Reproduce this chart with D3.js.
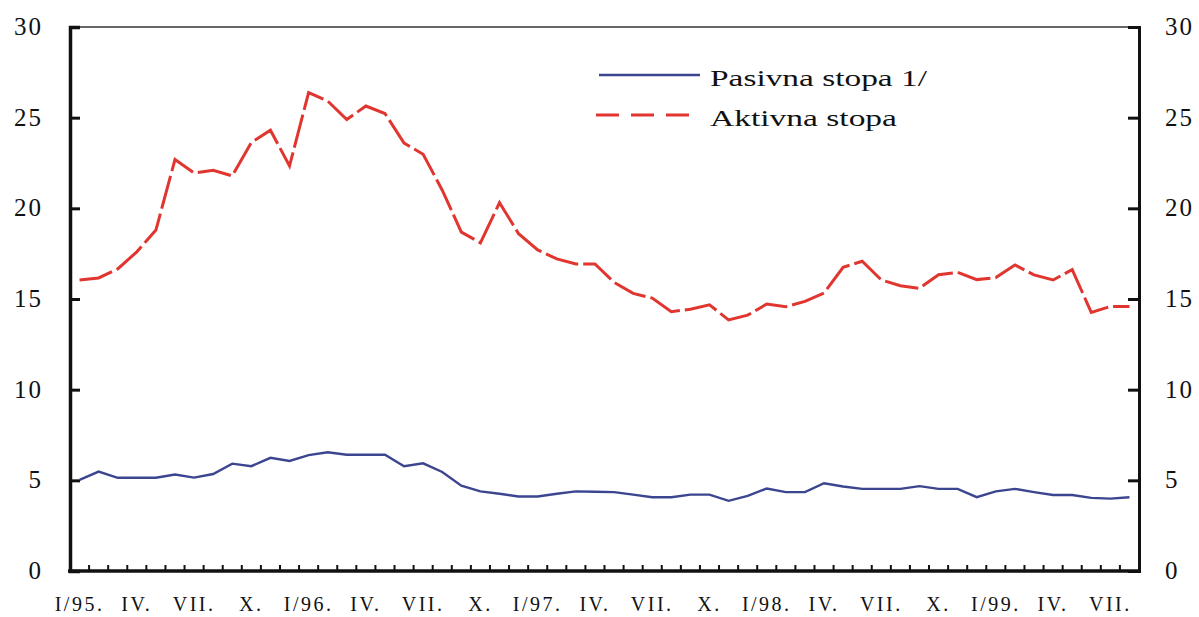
<!DOCTYPE html>
<html>
<head>
<meta charset="utf-8">
<script src="https://cdn.jsdelivr.net/npm/d3@7"></script>
<style>
  body { margin: 0; background: #fff; }
  text { font-family: "Liberation Serif", "Times New Roman", serif; fill: #111; }
</style>
</head>
<body>
<script>
var w = 1199;
var h = 617;

//Months, Jan 1995 - Aug 1999
var months = [
    "1995-01", "1995-02", "1995-03", "1995-04", "1995-05", "1995-06", "1995-07", "1995-08", "1995-09", "1995-10", "1995-11", "1995-12",
    "1996-01", "1996-02", "1996-03", "1996-04", "1996-05", "1996-06", "1996-07", "1996-08", "1996-09", "1996-10", "1996-11", "1996-12",
    "1997-01", "1997-02", "1997-03", "1997-04", "1997-05", "1997-06", "1997-07", "1997-08", "1997-09", "1997-10", "1997-11", "1997-12",
    "1998-01", "1998-02", "1998-03", "1998-04", "1998-05", "1998-06", "1998-07", "1998-08", "1998-09", "1998-10", "1998-11", "1998-12",
    "1999-01", "1999-02", "1999-03", "1999-04", "1999-05", "1999-06", "1999-07", "1999-08"
];

//Pasivna stopa 1/
var pasivna = [
    5.02, 5.48, 5.14, 5.14, 5.14, 5.32, 5.15, 5.35, 5.92, 5.78, 6.24, 6.07,
    6.39, 6.55, 6.41, 6.41, 6.41, 5.78, 5.94, 5.46, 4.70, 4.39, 4.26, 4.11,
    4.11, 4.26, 4.39, 4.37, 4.35, 4.21, 4.07, 4.07, 4.21, 4.21, 3.87, 4.14,
    4.55, 4.35, 4.35, 4.84, 4.66, 4.53, 4.53, 4.53, 4.68, 4.53, 4.53, 4.07,
    4.39, 4.53, 4.35, 4.19, 4.19, 4.03, 3.99, 4.07
];

//Aktivna stopa
var aktivna = [
    16.05, 16.16, 16.66, 17.6, 18.8, 22.69, 21.95, 22.1, 21.79, 23.63, 24.31, 22.34,
    26.38, 25.92, 24.9, 25.64, 25.23, 23.6, 22.98, 21.0, 18.69, 18.1, 20.31, 18.6,
    17.71, 17.21, 16.93, 16.93, 15.92, 15.31, 15.05, 14.3, 14.44, 14.68, 13.85, 14.11,
    14.72, 14.57, 14.87, 15.33, 16.75, 17.08, 16.05, 15.73, 15.59, 16.34, 16.47, 16.07,
    16.18, 16.88, 16.33, 16.05, 16.62, 14.26, 14.59, 14.59
];

//Quarter labels on the x axis
var tickMonths = ["1995-01", "1995-04", "1995-07", "1995-10", "1996-01", "1996-04", "1996-07", "1996-10",
    "1997-01", "1997-04", "1997-07", "1997-10", "1998-01", "1998-04", "1998-07", "1998-10",
    "1999-01", "1999-04", "1999-07"];
var tickLabels = ["I/95.", "IV.", "VII.", "X.", "I/96.", "IV.", "VII.", "X.",
    "I/97.", "IV.", "VII.", "X.", "I/98.", "IV.", "VII.", "X.",
    "I/99.", "IV.", "VII."];

var yTicks = [0, 5, 10, 15, 20, 25, 30];

var seriesNames = ["Pasivna stopa 1/", "Aktivna stopa"];

var blue = "#3b4590";
var red = "#e0362f";

//Scales
var xScale = d3.scaleBand()
    .domain(months)
    .range([70, 1139]);

var yScale = d3.scaleLinear()
    .domain([0, 30])
    .range([571, 27]);

var cx = function (d, i) {
    return xScale(months[i]) + xScale.bandwidth() / 2;
};

//Create SVG element
var svg = d3.select("body")
    .append("svg")
    .attr("width", w)
    .attr("height", h);

//frame top line
svg.append("line")
    .attr("x1", 70).attr("x2", 1139)
    .attr("y1", yScale(30)).attr("y2", yScale(30))
    .attr("stroke", "#333")
    .attr("stroke-width", 1.5);

//left axis
var yaxisL = d3.axisRight(yScale)
    .tickValues(yTicks)
    .tickSize(10)
    .tickFormat("");

svg.append("g")
    .attr("transform", "translate(70,0)")
    .call(yaxisL)
    .call(function (g) {
        g.select(".domain").attr("stroke", "#111").attr("stroke-width", 3.5);
        g.selectAll(".tick line").attr("stroke", "#111").attr("stroke-width", 3);
    });

//right axis
var yaxisR = d3.axisLeft(yScale)
    .tickValues(yTicks)
    .tickSize(11)
    .tickFormat("");

svg.append("g")
    .attr("transform", "translate(1139,0)")
    .call(yaxisR)
    .call(function (g) {
        g.select(".domain").attr("stroke", "#111").attr("stroke-width", 3);
        g.selectAll(".tick line").attr("stroke", "#111").attr("stroke-width", 3);
    });

//y labels, both sides
svg.selectAll("text.yl")
    .data(yTicks)
    .enter()
    .append("text")
    .attr("class", "yl")
    .attr("x", 43)
    .attr("y", function (d) { return yScale(d) + 8; })
    .attr("text-anchor", "end")
    .attr("font-size", "25px")
    .attr("letter-spacing", 2)
    .text(function (d) { return d; });

svg.selectAll("text.yr")
    .data(yTicks)
    .enter()
    .append("text")
    .attr("class", "yr")
    .attr("x", 1165)
    .attr("y", function (d) { return yScale(d) + 8; })
    .attr("font-size", "25px")
    .attr("letter-spacing", 2)
    .text(function (d) { return d; });

//x axis, a small tick at every month boundary
svg.selectAll("line.mt")
    .data(months)
    .enter()
    .append("line")
    .attr("class", "mt")
    .attr("x1", function (d) { return xScale(d); })
    .attr("x2", function (d) { return xScale(d); })
    .attr("y1", 571)
    .attr("y2", 565)
    .attr("stroke", "#111")
    .attr("stroke-width", 2);

svg.append("line")
    .attr("x1", 68).attr("x2", 1140.5)
    .attr("y1", 571).attr("y2", 571)
    .attr("stroke", "#111")
    .attr("stroke-width", 3.5);

svg.selectAll("text.xl")
    .data(tickLabels)
    .enter()
    .append("text")
    .attr("class", "xl")
    .attr("x", function (d, i) { return xScale(tickMonths[i]) + xScale.bandwidth() / 2; })
    .attr("y", 611)
    .attr("text-anchor", "middle")
    .attr("font-size", "20px")
    .attr("letter-spacing", 2.5)
    .text(function (d) { return d; });

//lines
var line = d3.line()
    .x(cx)
    .y(function (d) { return yScale(d); });

svg.append("path")
    .datum(pasivna)
    .attr("d", line)
    .attr("fill", "none")
    .attr("stroke", blue)
    .attr("stroke-width", 2.4);

svg.append("path")
    .datum(aktivna)
    .attr("d", line)
    .attr("fill", "none")
    .attr("stroke", red)
    .attr("stroke-width", 3)
    .attr("stroke-dasharray", "34,5");

//legend
var legend = svg.append("g");

legend.append("line")
    .attr("x1", 599).attr("x2", 700)
    .attr("y1", 75).attr("y2", 75)
    .attr("stroke", blue)
    .attr("stroke-width", 2.5);

legend.append("line")
    .attr("x1", 596).attr("x2", 690)
    .attr("y1", 115).attr("y2", 115)
    .attr("stroke", red)
    .attr("stroke-width", 3)
    .attr("stroke-dasharray", "23,12");

legend.selectAll("text")
    .data(seriesNames)
    .enter()
    .append("text")
    .attr("x", 710)
    .attr("y", function (d, i) { return 86 + i * 40; })
    .attr("font-size", "23px")
    .attr("textLength", function (d, i) { return i === 0 ? 217 : 187; })
    .attr("lengthAdjust", "spacingAndGlyphs")
    .text(function (d) { return d; });
</script>
</body>
</html>
